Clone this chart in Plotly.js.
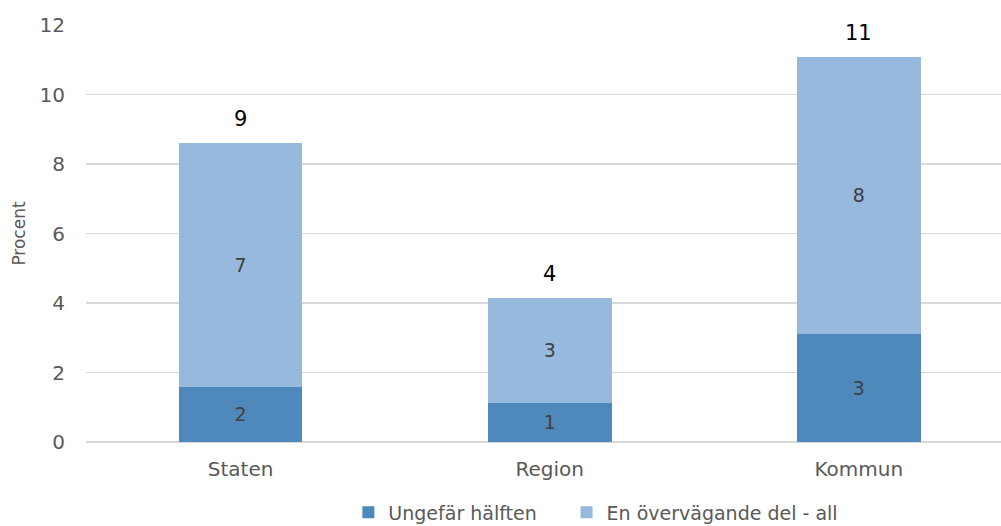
<!DOCTYPE html>
<html>
<head>
<meta charset="utf-8">
<script src="https://cdn.plot.ly/plotly-3.0.1.min.js"></script>
<style>html,body{margin:0;padding:0;background:#fff;}#chart{width:1001px;height:526px;}</style>
</head>
<body>
<div id="chart"></div>
<script>
const categories = ["Staten", "Region", "Kommun"];
const ungefarHalften = [1.59, 1.13, 3.10];
const overvagandeDel = [7.02, 3.01, 7.99];
const seriesNames = ["Ungefär hälften", "En övervägande del - all"];
const yTicks = [0, 2, 4, 6, 8, 10, 12];

const FONT = "DejaVu Sans, Verdana, sans-serif";
const totals = categories.map((c, i) => ungefarHalften[i] + overvagandeDel[i]);

const traces = [
  {
    type: "bar", name: seriesNames[0], x: categories, y: ungefarHalften,
    marker: {color: "#4f88bb"}, width: 0.4, legend: "legend",
    texttemplate: "%{y:.0f}", textposition: "inside", insidetextanchor: "middle",
    textfont: {family: FONT, size: 19, color: "#404040"}, hoverinfo: "none"
  },
  {
    type: "bar", name: seriesNames[1], x: categories, y: overvagandeDel,
    marker: {color: "#98b9de"}, width: 0.4, legend: "legend2",
    texttemplate: "%{y:.0f}", textposition: "inside", insidetextanchor: "middle",
    textfont: {family: FONT, size: 19, color: "#404040"}, hoverinfo: "none"
  }
];

const annotations = categories.map((c, i) => ({
  x: c, y: totals[i], xref: "x", yref: "y",
  text: String(Math.round(totals[i])), showarrow: false,
  yanchor: "bottom", yshift: 10,
  font: {family: FONT, size: 21, color: "#000000"}
}));

const legendFont = {family: FONT, size: 19, color: "#595959"};

const layout = {
  width: 1001, height: 526,
  margin: {l: 86, r: 0, t: 25, b: 84},
  paper_bgcolor: "#ffffff", plot_bgcolor: "#ffffff",
  barmode: "stack",
  font: {family: FONT, color: "#595959"},
  xaxis: {
    type: "category", range: [-0.5, 2.46],
    showgrid: false, showline: false, zeroline: false, ticks: "",
    tickfont: {family: FONT, size: 20, color: "#595959"},
    ticklabelstandoff: 13
  },
  yaxis: {
    range: [0, 12], tickvals: yTicks, ticktext: yTicks.map(String),
    showgrid: true, gridcolor: "#d9d9d9", gridwidth: 1.5,
    zeroline: true, zerolinecolor: "#d9d9d9", zerolinewidth: 1.5,
    showline: false, ticks: "",
    tickfont: {family: FONT, size: 20, color: "#595959"},
    ticklabelstandoff: 20,
    title: {text: "Procent", font: {family: FONT, size: 17, color: "#595959"}, standoff: 9}
  },
  showlegend: true,
  legend: {
    orientation: "h", x: 0.348, xanchor: "left", xref: "container",
    y: 0.062, yanchor: "top", yref: "container",
    font: legendFont, itemwidth: 30
  },
  legend2: {
    orientation: "h", x: 0.566, xanchor: "left", xref: "container",
    y: 0.062, yanchor: "top", yref: "container",
    font: legendFont, itemwidth: 30
  },
  annotations: annotations
};

Plotly.newPlot("chart", traces, layout, {displayModeBar: false, staticPlot: true});
</script>
</body>
</html>
